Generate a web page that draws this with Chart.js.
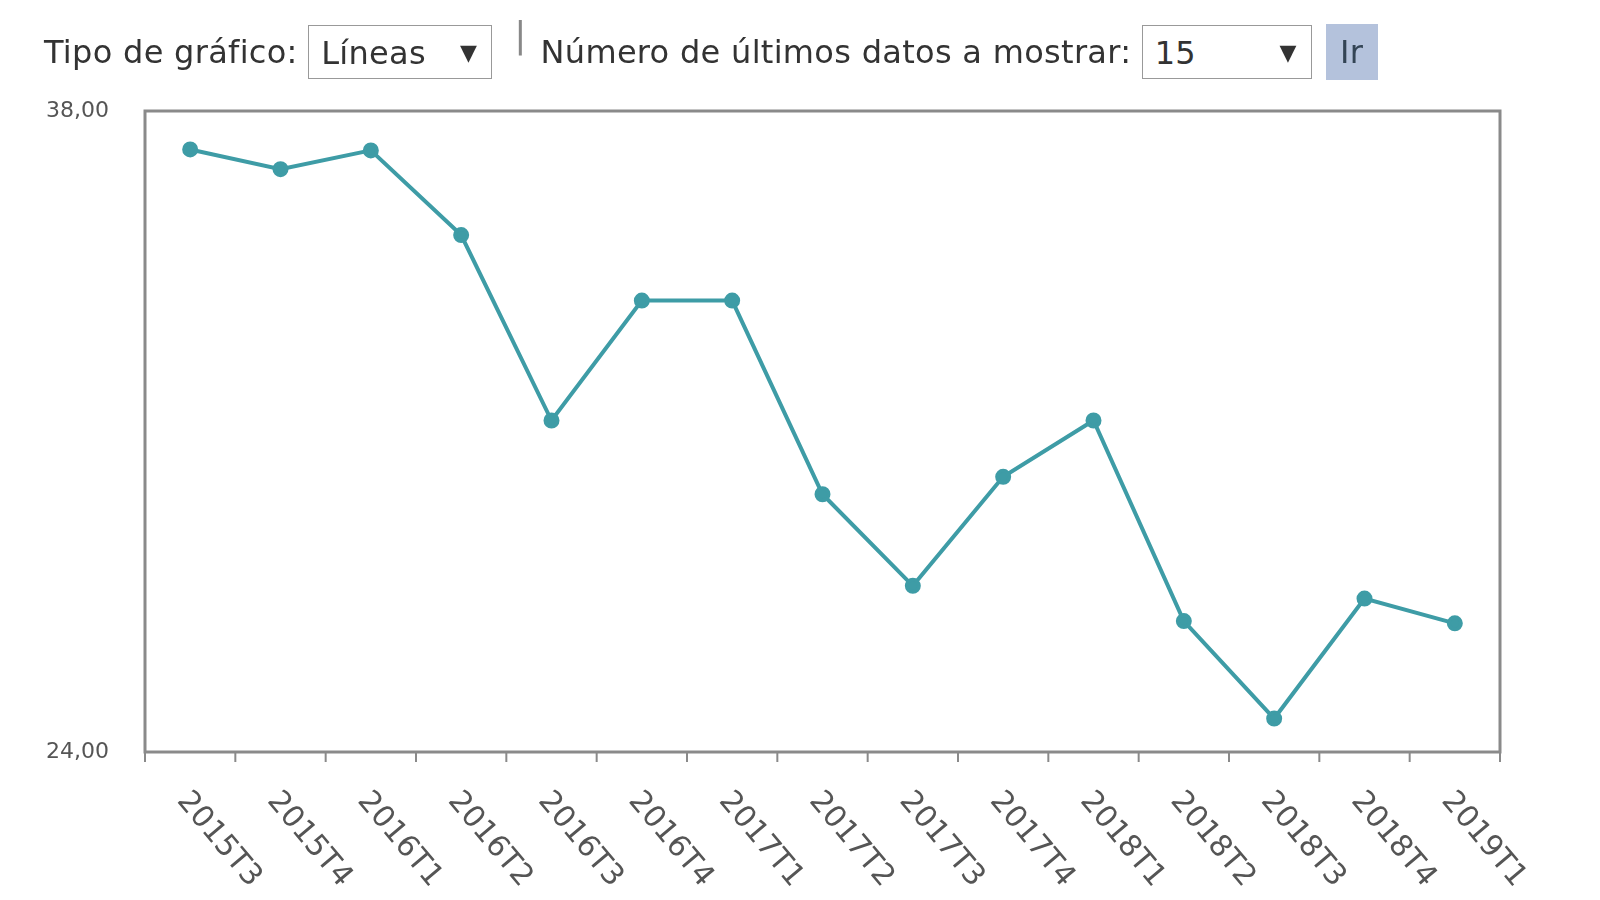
<!DOCTYPE html>
<html><head><meta charset="utf-8">
<script src="https://cdn.jsdelivr.net/npm/chart.js@4"></script>
<style>
body{margin:0;width:1600px;height:900px;overflow:hidden;background:#fff;font-family:"DejaVu Sans",Arial,sans-serif;color:#333}
#hdr{position:absolute;left:44px;top:24px;font-size:32px;display:flex;align-items:center;white-space:nowrap;letter-spacing:0.3px}
.sel{display:inline-block;border:1px solid #999;height:54px;line-height:54px;padding:0 12px;box-sizing:border-box;position:relative;font-size:32px;background:#fff}
.sel span.ar{position:absolute;right:14px;top:0;font-size:22px}
#btn{display:inline-block;background:#b4c2dc;height:56px;line-height:56px;width:52px;text-align:center;margin-left:14px;color:#345}
#wrap{position:absolute;left:0;top:0;width:1600px;height:900px}
</style></head><body>
<div id="wrap"><canvas id="c" width="1600" height="900"></canvas></div>
<div id="hdr">Tipo de gráfico:&nbsp;<span class="sel" style="width:184px">Líneas<span class="ar">▼</span></span>
<span style="margin:0 14px 0 22px;color:#888;position:relative;top:-18px;font-size:36px">|</span>Número de últimos datos a mostrar:&nbsp;<span class="sel" style="width:170px">15<span class="ar">▼</span></span><span id="btn">Ir</span></div>
<script>
const categories=["2015T3","2015T4","2016T1","2016T2","2016T3","2016T4","2017T1","2017T2","2017T3","2017T4","2018T1","2018T2","2018T3","2018T4","2019T1"];
const values=[37.16,36.73,37.14,35.29,31.24,33.86,33.86,29.63,27.63,30.01,31.24,26.86,24.73,27.35,26.81];
const yTicks=[24,38];
const fmt=v=>v.toFixed(2).replace('.',',');
const deco={id:'deco',
 beforeDatasetsDraw(ch){const a=ch.chartArea,c=ch.ctx;c.save();c.strokeStyle='#8a8a8a';c.lineWidth=3;c.strokeRect(a.left,a.top,a.right-a.left,a.bottom-a.top);
  const x=ch.scales.x;c.lineWidth=2;
  for(let i=0;i<=categories.length;i++){const px=x.getPixelForValue(i-0.5);c.beginPath();c.moveTo(px,a.bottom);c.lineTo(px,a.bottom+10);c.stroke();}
  c.restore();},
 afterDraw(ch){const a=ch.chartArea,c=ch.ctx,x=ch.scales.x;c.save();c.font='30px "DejaVu Sans", Arial';c.fillStyle='#555';c.textBaseline='middle';
  categories.forEach((t,i)=>{const px=x.getPixelForValue(i);c.save();c.translate(px-8,a.bottom+44);c.rotate(50*Math.PI/180);c.fillText(t,0,0);c.restore();});
  c.restore();}};
new Chart(document.getElementById('c'),{type:'line',
 data:{labels:categories,datasets:[{data:values,borderColor:'#3e9ca6',backgroundColor:'#3e9ca6',borderWidth:4,pointRadius:6,pointHoverRadius:6,tension:0}]},
 options:{responsive:false,animation:false,events:[],
  layout:{padding:{left:0,top:111,right:100,bottom:140}},
  plugins:{legend:{display:false},tooltip:{enabled:false}},
  scales:{
   x:{offset:true,grid:{display:false},border:{display:false},ticks:{display:false}},
   y:{min:24,max:38,afterFit:s=>{s.width=145},afterBuildTicks:s=>{s.ticks=yTicks.map(v=>({value:v}))},
      grid:{display:false},border:{display:false},
      ticks:{color:'#555',font:{size:22,family:'DejaVu Sans'},padding:28,callback:v=>fmt(v)}}}},
 plugins:[deco]});
</script></body></html>
